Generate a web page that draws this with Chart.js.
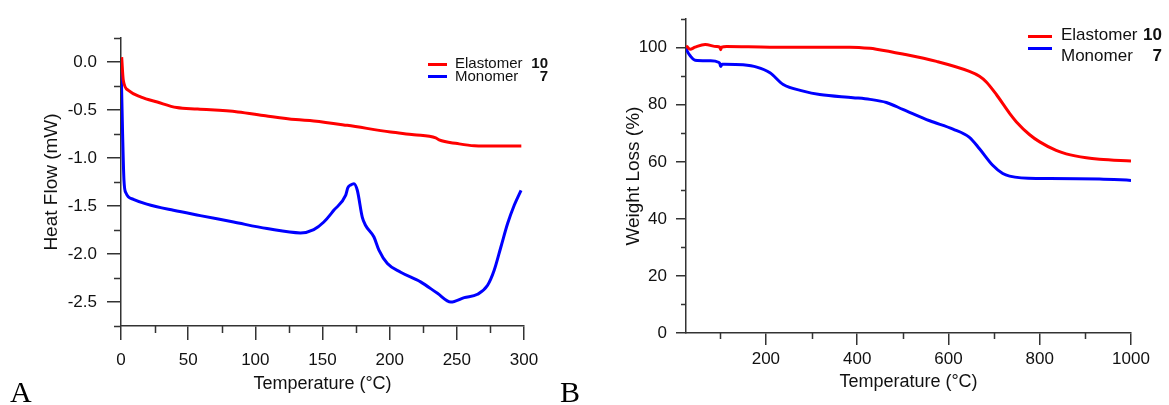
<!DOCTYPE html>
<html>
<head>
<meta charset="utf-8">
<script src="https://cdn.jsdelivr.net/npm/chart.js@4/dist/chart.umd.min.js"></script>
<style>
  body { margin: 0; background: #fff; }
  #wrap { position: relative; width: 1169px; height: 405px; overflow: hidden; font-family: "Liberation Sans", Arial, sans-serif; }
  canvas { position: absolute; top: 0; }
  .lg-line { position: absolute; height: 3px; }
  .lg-row { position: absolute; color: #111; white-space: nowrap; }
  .lg-row b { position: absolute; right: 0; top: 0; }
  .panel { position: absolute; font-family: "Liberation Serif", "Times New Roman", serif; font-size: 30px; color: #000; line-height: 30px; }
</style>
</head>
<body>
<div id="wrap">
  <canvas id="dscChart" width="580" height="405" style="left:0"></canvas>
  <canvas id="tgaChart" width="589" height="405" style="left:580px"></canvas>

  <div class="lg-line" style="left:428px;top:63px;width:19px;background:#ff0000"></div>
  <div class="lg-line" style="left:428px;top:75px;width:19px;background:#0000ff"></div>
  <div class="lg-row" style="left:455px;top:55px;width:93px;font-size:15px;line-height:15px">Elastomer <b>10</b></div>
  <div class="lg-row" style="left:455px;top:68px;width:93px;font-size:15px;line-height:15px">Monomer <b>7</b></div>

  <div class="lg-line" style="left:1028px;top:35px;width:24px;background:#ff0000"></div>
  <div class="lg-line" style="left:1028px;top:47px;width:24px;background:#0000ff"></div>
  <div class="lg-row" style="left:1061px;top:26px;width:101px;font-size:17px;line-height:17px">Elastomer <b>10</b></div>
  <div class="lg-row" style="left:1061px;top:47px;width:101px;font-size:17px;line-height:17px">Monomer <b>7</b></div>

  <div class="panel" style="left:10px;top:377px">A</div>
  <div class="panel" style="left:560px;top:377px">B</div>
</div>

<script>
// DSC (panel A)
const dscElastomerT = [0.5, 1.7, 5.5, 15, 27, 41.5, 57, 87, 107.5, 130, 143.5, 168.4, 200.7, 218, 234.3, 236.8, 250.5, 263, 280, 298];
const dscElastomerHF = [0.05, -0.19, -0.295, -0.365, -0.417, -0.475, -0.49, -0.52, -0.56, -0.6, -0.614, -0.66, -0.729, -0.757, -0.79, -0.812, -0.85, -0.872, -0.875, -0.875];
const dscMonomerT = [0, 1.2, 2.2, 3.7, 9.2, 19.2, 39, 59, 83.8, 108.7, 133.6, 143.5, 151, 158.4, 167.2, 168.9, 171, 173.4, 175.9, 179.6, 182, 188.3, 192, 198.3, 208.2, 223, 235.6, 245.5, 255.5, 265.4, 272.9, 277.8, 282.8, 287.8, 292.8, 297.8];
const dscMonomerHF = [0, -0.75, -1.23, -1.365, -1.43, -1.48, -1.545, -1.6, -1.667, -1.735, -1.78, -1.746, -1.667, -1.545, -1.389, -1.308, -1.28, -1.267, -1.336, -1.615, -1.7, -1.823, -1.96, -2.1, -2.19, -2.29, -2.41, -2.5, -2.455, -2.42, -2.326, -2.17, -1.927, -1.683, -1.49, -1.336];
const dscXTicks = [0, 50, 100, 150, 200, 250, 300];
const dscXMinor = [25, 75, 125, 175, 225, 275];
const dscYTicks = [-2.5, -2.0, -1.5, -1.0, -0.5, 0.0];
const dscYMinor = [-2.75, -2.25, -1.75, -1.25, -0.75, -0.25, 0.25];

// TGA (panel B)
const tgaElastomerT = [25, 27, 34, 45, 67, 92, 99, 101, 103, 114, 209, 333, 384, 428, 442, 500, 574, 646, 668, 683, 705, 734, 749, 778, 800, 836, 858, 902, 931, 1000];
const tgaElastomerW = [100.6, 100.4, 99.5, 100.2, 101.1, 100.4, 100.2, 99.3, 100.2, 100.4, 100.2, 100.2, 100.2, 99.8, 99.5, 97.8, 95.2, 91.7, 90, 88, 83.6, 77, 74, 69.5, 67, 64, 62.8, 61.4, 60.9, 60.3];
const tgaMonomerT = [25, 27, 35, 45, 78, 96, 99, 101, 104, 110, 150, 180, 209, 238, 282, 318, 391, 428, 464, 500, 559, 610, 646, 668, 697, 719, 734, 792, 822, 931, 1000];
const tgaMonomerW = [99.8, 99, 97, 95.6, 95.4, 94.9, 94.5, 93.4, 94.2, 94.2, 94, 93.2, 91.2, 87.1, 84.8, 83.6, 82.5, 81.9, 80.8, 78.4, 74.4, 71.5, 68.6, 64.6, 58.8, 55.9, 55, 54.2, 54.2, 54, 53.5];
const tgaXTicks = [200, 400, 600, 800, 1000];
const tgaXMinor = [100, 300, 500, 700, 900];
const tgaYTicks = [0, 20, 40, 60, 80, 100];
const tgaYMinor = [10, 30, 50, 70, 90, 110];

const axisColor = "#333";
const tickFont = { family: "Liberation Sans", size: 17 };
const xTitleFont = { family: "Liberation Sans", size: 18 };
const yTitleFont = { family: "Liberation Sans", size: 19 };

function points(xs, ys) {
  return xs.map((x, i) => ({ x: x, y: ys[i] }));
}

function series(label, xs, ys, color) {
  return {
    label: label,
    data: points(xs, ys),
    borderColor: color,
    backgroundColor: color,
    borderWidth: 3,
    pointRadius: 0,
    cubicInterpolationMode: "monotone",
    fill: false,
  };
}

// short ticks between the labelled ones
const minorTicks = {
  id: "minorTicks",
  afterDraw(chart, args, opts) {
    const ctx = chart.ctx;
    const xs = chart.scales.x;
    const ys = chart.scales.y;
    ctx.save();
    ctx.strokeStyle = axisColor;
    ctx.lineWidth = 1.5;
    ctx.beginPath();
    opts.x.forEach((v) => {
      const px = Math.round(xs.getPixelForValue(v)) + 0.5;
      ctx.moveTo(px, xs.top);
      ctx.lineTo(px, xs.top + opts.xLen);
    });
    opts.y.forEach((v) => {
      const py = Math.round(ys.getPixelForValue(v)) + 0.5;
      ctx.moveTo(ys.right - opts.yLen, py);
      ctx.lineTo(ys.right, py);
    });
    ctx.stroke();
    ctx.restore();
  },
};

function makeChart(id, cfg) {
  const ctx = document.getElementById(id).getContext("2d");
  return new Chart(ctx, {
    type: "line",
    data: { datasets: cfg.datasets },
    plugins: [minorTicks],
    options: {
      responsive: false,
      animation: false,
      layout: { padding: cfg.padding },
      plugins: {
        legend: { display: false },
        tooltip: { enabled: false },
        minorTicks: { x: cfg.xMinor, y: cfg.yMinor, xLen: cfg.xMinorLen, yLen: cfg.yMinorLen },
      },
      scales: {
        x: {
          type: "linear",
          min: cfg.xMin,
          max: cfg.xMax,
          afterBuildTicks: (s) => { s.ticks = cfg.xTicks.map((v) => ({ value: v })); },
          afterFit: (s) => { s.height = cfg.xHeight; },
          border: { display: true, color: axisColor, width: 1.5 },
          grid: { drawOnChartArea: false, drawTicks: true, tickLength: cfg.xTickLen, color: axisColor, lineWidth: 1.5 },
          ticks: { color: "#111", font: tickFont, padding: cfg.xLabelPad, maxRotation: 0, autoSkip: false, callback: (v) => String(v) },
          title: { display: true, text: "Temperature (°C)", color: "#111", font: xTitleFont, padding: { bottom: cfg.xTitlePad } },
        },
        y: {
          type: "linear",
          min: cfg.yMin,
          max: cfg.yMax,
          afterBuildTicks: (s) => { s.ticks = cfg.yTicks.map((v) => ({ value: v })); },
          afterFit: (s) => { s.width = cfg.yWidth; },
          border: { display: true, color: axisColor, width: 1.5 },
          grid: { drawOnChartArea: false, drawTicks: true, tickLength: cfg.yTickLen, color: axisColor, lineWidth: 1.5 },
          ticks: { color: "#111", font: tickFont, padding: cfg.yLabelPad, callback: cfg.yFmt },
          title: { display: true, text: cfg.yTitle, color: "#111", font: yTitleFont, padding: { top: cfg.yTitlePad } },
        },
      },
    },
  });
}

makeChart("dscChart", {
  datasets: [
    series("Elastomer 10", dscElastomerT, dscElastomerHF, "#ff0000"),
    series("Monomer 7", dscMonomerT, dscMonomerHF, "#0000ff"),
  ],
  padding: { top: 38, left: 0, right: 56, bottom: 0 },
  xMin: 0, xMax: 300, xTicks: dscXTicks, xMinor: dscXMinor,
  yMin: -2.75, yMax: 0.25, yTicks: dscYTicks, yMinor: dscYMinor,
  xHeight: 79, yWidth: 121,
  xTickLen: 14, yTickLen: 14, xMinorLen: 7, yMinorLen: 7,
  xLabelPad: 10, yLabelPad: 10, xTitlePad: 10, yTitlePad: 40,
  yTitle: "Heat Flow (mW)",
  yFmt: (v) => v.toFixed(1),
});

makeChart("tgaChart", {
  datasets: [
    series("Elastomer 10", tgaElastomerT, tgaElastomerW, "#ff0000"),
    series("Monomer 7", tgaMonomerT, tgaMonomerW, "#0000ff"),
  ],
  padding: { top: 15, left: 0, right: 38, bottom: 0 },
  xMin: 25, xMax: 1000, xTicks: tgaXTicks, xMinor: tgaXMinor,
  yMin: 0, yMax: 110, yTicks: tgaYTicks, yMinor: tgaYMinor,
  xHeight: 72, yWidth: 106,
  xTickLen: 12, yTickLen: 10, xMinorLen: 6, yMinorLen: 5,
  xLabelPad: 4, yLabelPad: 9, xTitlePad: 12, yTitlePad: 42,
  yTitle: "Weight Loss (%)",
  yFmt: (v) => String(v),
});
</script>
</body>
</html>
